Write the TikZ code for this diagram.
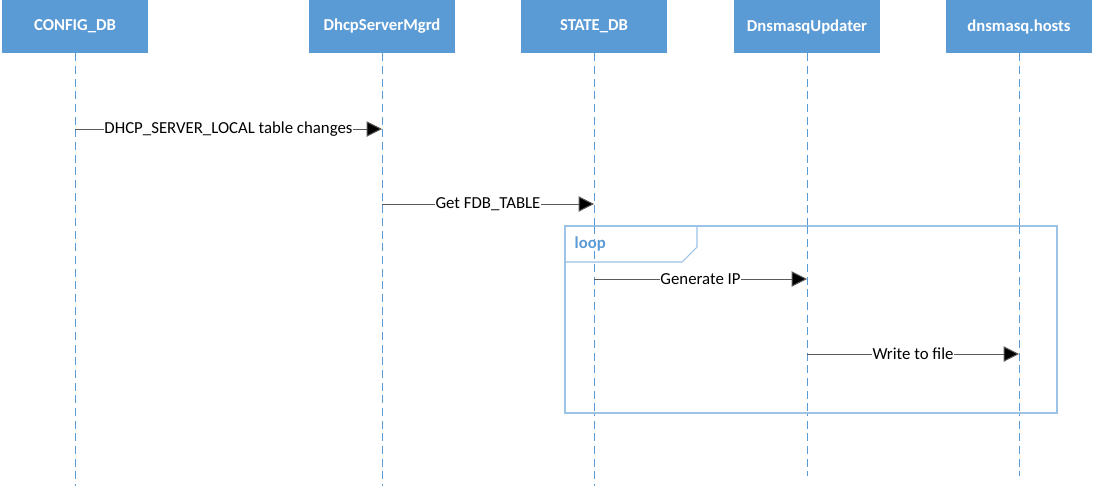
\documentclass[tikz,border=0pt]{standalone}
\usepackage{fontspec}
\setmainfont{Carlito}
\usepackage{xcolor}
\usetikzlibrary{arrows.meta, positioning, calc}
\definecolor{lifeBlue}{RGB}{91, 155, 213}
\definecolor{frameBlue}{RGB}{157, 195, 230}
\definecolor{msgGray}{RGB}{90, 90, 90}

\begin{document}
\begin{tikzpicture}[x=0.75pt, y=-0.75pt,
				actor/.style    = {rectangle, fill=lifeBlue, draw=none, minimum width=109.5pt,
					minimum height=39.75pt, inner sep=0pt, text=white, font=\fontsize{12.5}{14}\selectfont\bfseries},
				lifeline/.style = {draw=lifeBlue, line width=0.75pt, dash pattern=on 6pt off 3.5pt},
				msg/.style      = {draw=msgGray, line width=0.75pt, -{Triangle[length=11.5pt, width=11.5pt, fill=black]}},
				msglabel/.style = {fill=white, inner sep=0.6pt, text=black, font=\fontsize{12.6}{14}\selectfont},
				frame/.style    = {draw=frameBlue, line width=0.8pt}
				]
				\useasboundingbox (0,0) rectangle (1094,486);
				
				\node[actor] (config) at (75, 26.5) {CONFIG\_DB};
				\node[actor] (dhcp) at (382, 26.5) {DhcpServerMgrd};
				\node[actor] (state) at (594, 26.5) {STATE\_DB};
				\node[actor] (dnsq) at (807, 26.5) {DnsmasqUpdater};
				\node[actor] (hosts) at (1019, 26.5) {dnsmasq.hosts};
				
				% lifelines
				\coordinate (endlong) at (0, 486);
				\coordinate (endshort) at (0, 476);
				\draw[lifeline] (config.south) -- (config |- endlong);
				\draw[lifeline] (dhcp.south) -- (dhcp |- endlong);
				\draw[lifeline] (state.south) -- (state |- endlong);
				\draw[lifeline] (dnsq.south) -- (dnsq |- endshort);
				\draw[lifeline] (hosts.south) -- (hosts |- endshort);
				
				% loop frame
				\coordinate (loop_nw) at (565, 226);
				\coordinate (loop_se) at (1057, 413);
				\draw[frame, fill=white] (loop_nw) rectangle (loop_se);
				\draw[frame] (loop_nw |- 0,262) -- (682, 262) -- (697, 247) -- (697 ,226);
				\node[anchor=west, text=lifeBlue, font=\fontsize{12.5}{14}\selectfont\bfseries] (looptag)
				at (570, 243.5) {loop};
				\draw[lifeline] (state |- loop_nw) -- (state |- loop_se);
				\draw[lifeline] (dnsq |- loop_nw) -- (dnsq |- loop_se);
				\draw[lifeline] (hosts |- loop_nw) -- (hosts |- loop_se);
				
				% messages
				\coordinate (m1) at (0, 129);
				\coordinate (m2) at (0, 204);
				\coordinate (m3) at (0, 279);
				\coordinate (m4) at (0, 354);
				\draw[msg] (config |- m1) -- node[msglabel] {DHCP\_SERVER\_LOCAL table changes} (dhcp |- m1);
				\draw[msg] (dhcp |- m2) -- node[msglabel] {Get FDB\_TABLE} (state |- m2);
				\draw[msg] (state |- m3) -- node[msglabel] {Generate IP} (dnsq |- m3);
				\draw[msg] (dnsq |- m4) -- node[msglabel] {Write to file} (hosts |- m4);
			\end{tikzpicture}
\end{document}
